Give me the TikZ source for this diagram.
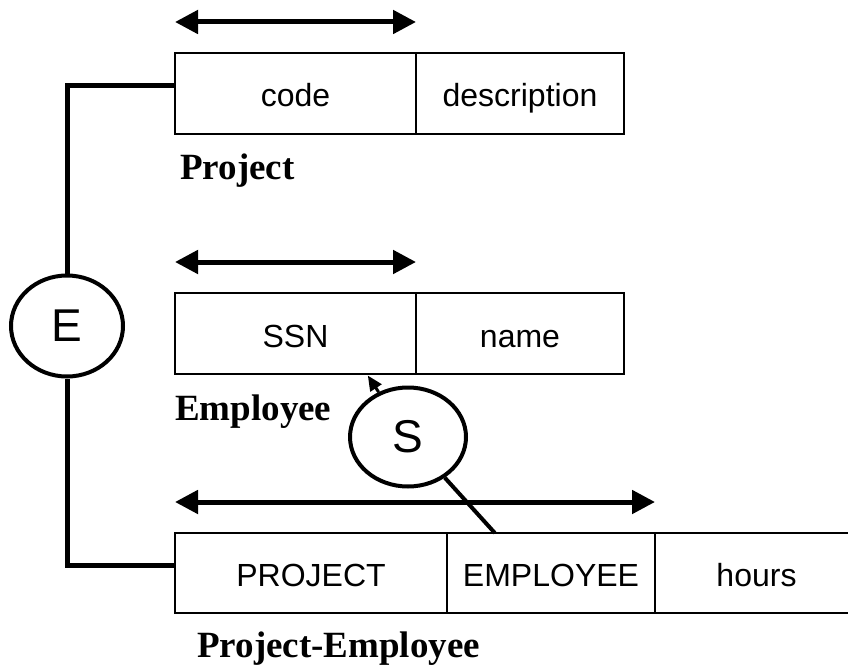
\documentclass[tikz,border=0pt]{standalone}
\usepackage{fontspec}
\setmainfont{Liberation Serif}
\newfontfamily\attrfont{Liberation Sans}
\usetikzlibrary{shapes,arrows.meta,calc}
\tikzstyle{attr}=[rectangle,draw=black,line width=2.5pt,inner sep=0pt,outer sep=0pt,
  minimum height=81pt,text height=27pt,text depth=0pt,font=\attrfont\fontsize{32}{32}\selectfont]
\tikzstyle{cn}=[ellipse,draw=black,line width=4pt,inner sep=0pt,
  minimum width=112pt,minimum height=101pt,font=\attrfont\fontsize{46}{46}\selectfont]
\tikzstyle{tname}=[anchor=base west,inner sep=0pt,font=\bfseries\fontsize{37}{37}\selectfont]
\tikzstyle{pkey}=[line width=5pt,arrows={Triangle[length=23pt,width=23pt]-Triangle[length=23pt,width=23pt]}]
\tikzstyle{link}=[line width=5pt]

\begin{document}
\begin{tikzpicture}[x=1pt,y=-1pt]
    \useasboundingbox (0,0) rectangle (848,671);
    % Project
    \node [style=attr,minimum width=241pt] (code) at (295.5,93.5) {code};
    \node [style=attr,minimum width=208pt] (desc) at (520,93.5) {description};
    \node [style=tname] (projlbl) at (180,180) {Project};
    % Employee
    \node [style=attr,minimum width=241pt] (ssn) at (295.5,333.5) {SSN};
    \node [style=attr,minimum width=208pt] (name) at (520,333.5) {name};
    \node [style=tname] (emplbl) at (175,420) {Employee};
    % Project-Employee
    \node [style=attr,minimum width=272pt,minimum height=80pt] (proj) at (311,573) {PROJECT};
    \node [style=attr,minimum width=208pt,minimum height=80pt] (emp) at (551,573) {EMPLOYEE};
    \node [style=attr,minimum width=203pt,minimum height=80pt] (hours) at (756.5,573) {hours};
    \node [style=tname] (pelbl) at (197,657) {Project-Employee};
    % keys
    \draw [style=pkey] ([yshift=31pt]code.north west) to ([yshift=31pt]code.north east);
    \draw [style=pkey] ([yshift=31pt]ssn.north west) to ([yshift=31pt]ssn.north east);
    \draw [style=pkey] ([yshift=31pt]proj.north west) to ([yshift=31pt]emp.north east);
    % constraints
    \node [style=cn] (E) at (67,326) {E};
    \node [style=cn,minimum width=116pt,minimum height=99pt] (S) at (408,437) {S};
    \coordinate (ssnfoot) at ($(ssn.south west)!0.8!(ssn.south east)+(0,1.5)$);
    \coordinate (empfoot) at ($(emp.north west)!0.23!(emp.north east)$);
    \draw [style=link] ([yshift=7.5pt]code.west) -| (E);
    \draw [style=link] ([yshift=8pt]proj.west) -| (E);
    \draw [line width=3pt,-{Triangle[length=15pt,width=13pt]}] (S) to (ssnfoot);
    \draw [line width=4pt] (S) to (empfoot);
\end{tikzpicture}
\end{document}
